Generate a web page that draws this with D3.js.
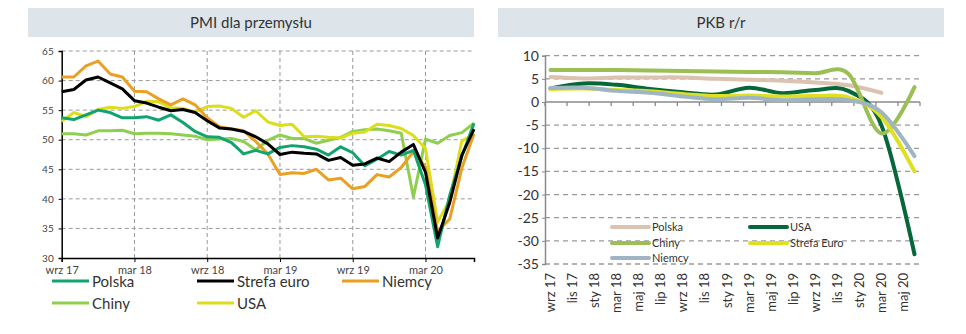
<!DOCTYPE html>
<html><head><meta charset="utf-8">
<script src="https://cdn.jsdelivr.net/npm/d3@7"></script>
<style>
html,body{margin:0;padding:0;background:#fff;}
svg{display:block;font-family:Lato,"Open Sans",sans-serif;}
</style></head>
<body>
<svg id="c" width="966" height="334"></svg>
<script>
// ---- PMI (monthly, wrz 17 .. lip 20) ----
const pmiTickLabels = ["wrz 17","mar 18","wrz 18","mar 19","wrz 19","mar 20"];
const pmiYTicks = [30,35,40,45,50,55,60,65];
const pmiPolska = [53.7,53.4,54.2,55.0,54.6,53.7,53.7,53.9,53.3,54.2,52.9,51.4,50.5,50.4,49.5,47.6,48.2,47.6,48.7,49.0,48.8,48.4,47.4,48.8,47.8,45.6,46.7,48.0,47.4,48.2,42.4,31.9,40.6,47.2,52.8];
const pmiStrefa = [58.1,58.5,60.1,60.6,59.6,58.6,56.6,56.2,55.5,54.9,55.1,54.6,53.2,52.0,51.8,51.4,50.5,49.3,47.5,47.9,47.7,47.6,46.5,47.0,45.7,45.9,46.9,46.3,47.9,49.2,44.5,33.4,39.4,47.4,51.8];
const pmiNiemcy = [60.6,60.6,62.5,63.3,61.1,60.6,58.2,58.1,56.9,55.9,56.9,55.9,53.7,52.2,51.8,51.5,49.7,47.6,44.1,44.4,44.3,45.0,43.2,43.5,41.7,42.1,44.1,43.7,45.3,48.0,45.4,34.5,36.6,45.2,51.0];
const pmiChiny = [51.0,51.0,50.8,51.5,51.5,51.6,51.0,51.1,51.1,51.0,50.8,50.6,50.0,50.1,50.2,49.7,48.3,49.9,50.8,50.2,50.2,49.4,49.9,50.4,51.4,51.7,51.8,51.5,51.1,40.3,50.1,49.4,50.7,51.2,52.8];
const pmiUSA = [53.1,54.6,53.9,55.1,55.5,55.3,55.6,56.5,56.4,55.4,55.3,54.7,55.6,55.7,55.3,53.8,54.9,53.0,52.4,52.6,50.5,50.6,50.4,50.3,51.1,51.3,52.6,52.4,51.9,50.7,48.5,36.1,39.8,49.8,50.9];

// ---- PKB r/r (quarterly points on monthly axis wrz 17 .. cze 20) ----
const gdpAxisLabels = ["wrz 17","lis 17","sty 18","mar 18","maj 18","lip 18","wrz 18","lis 18","sty 19","mar 19","maj 19","lip 19","wrz 19","lis 19","sty 20","mar 20","maj 20"];
const gdpYTicks = [10,5,0,-5,-10,-15,-20,-25,-30,-35];
const gdpQuarters = ["wrz 17","gru 17","mar 18","cze 18","wrz 18","gru 18","mar 19","cze 19","wrz 19","gru 19","mar 20","cze 20"];
const gdpPolska = [5.4,5.1,5.3,5.3,5.3,5.0,4.8,4.6,4.2,3.6,2.0];
const gdpUSA = [2.9,4.0,3.7,2.8,2.1,1.6,3.1,1.9,2.6,2.4,-5.0,-32.9];
const gdpChiny = [6.9,6.9,6.9,6.8,6.7,6.6,6.5,6.4,6.2,6.1,-6.8,3.2];
const gdpStrefa = [2.8,2.9,2.6,2.3,1.7,1.3,1.4,1.2,1.3,1.0,-3.2,-15.0];
const gdpNiemcy = [3.0,3.1,2.4,2.0,1.2,0.6,0.9,0.4,0.6,0.4,-2.2,-11.7];

const svg = d3.select("#c");
const txt = "#333";

// ================= LEFT CHART =================
svg.append("rect").attr("x",28).attr("y",8).attr("width",446).attr("height",29).attr("fill","#dde5ea");
svg.append("text").attr("x",251).attr("y",28).attr("text-anchor","middle").attr("font-size",15).attr("fill",txt).text("PMI dla przemysłu");

const lx = d3.scaleLinear().domain([0, pmiPolska.length-1]).range([61.7, 474]);
const ly = d3.scaleLinear().domain([30,65]).range([258,51]);
const L = svg.append("g");
const pmiTickIdx = pmiTickLabels.map((d,i)=>i*6);

// gridlines
L.selectAll(".hg").data(pmiYTicks.filter(v=>v>30)).join("line")
  .attr("x1",lx(0)).attr("x2",474).attr("y1",d=>ly(d)).attr("y2",d=>ly(d))
  .attr("stroke","#9a9a9a").attr("stroke-width",1).attr("stroke-dasharray","4,3");
L.selectAll(".vg").data(pmiTickIdx.filter(i=>i>0)).join("line")
  .attr("x1",d=>lx(d)).attr("x2",d=>lx(d)).attr("y1",ly(65)).attr("y2",ly(30))
  .attr("stroke","#9a9a9a").attr("stroke-width",1).attr("stroke-dasharray","4,3");

// axes
const lyAxis = L.append("g").attr("transform",`translate(${lx(0)},0)`)
  .call(d3.axisLeft(ly).tickValues(pmiYTicks).tickSize(3).tickPadding(5).tickFormat(d=>d));
lyAxis.select(".domain").attr("stroke","#000").attr("stroke-width",1.5);
lyAxis.selectAll(".tick line").attr("stroke","#000");
lyAxis.selectAll("text").attr("font-size",10).attr("fill","#444").attr("font-family","Lato,sans-serif");
const lxAxis = L.append("g").attr("transform",`translate(0,${ly(30)})`)
  .call(d3.axisBottom(lx).tickValues(pmiTickIdx).tickSize(4).tickPadding(4).tickFormat((d,i)=>pmiTickLabels[i]));
lxAxis.select(".domain").attr("stroke","#000").attr("stroke-width",1.5);
lxAxis.selectAll(".tick line").attr("stroke","#000");
lxAxis.selectAll("text").attr("font-size",11).attr("fill","#444").attr("font-family","Lato,sans-serif");

const pmiSeries = [
  {name:"Polska", data:pmiPolska, color:"#12a46e"},
  {name:"Strefa euro", data:pmiStrefa, color:"#000000"},
  {name:"Niemcy", data:pmiNiemcy, color:"#e9a023"},
  {name:"Chiny", data:pmiChiny, color:"#8fcf4f"},
  {name:"USA", data:pmiUSA, color:"#dcde1c"}
];
const lline = d3.line().x((d,i)=>lx(i)).y(d=>ly(d));
const drawOrderL = [3,4,2,0,1];
drawOrderL.forEach(k=>{
  const s = pmiSeries[k];
  L.append("path").datum(s.data).attr("d",lline).attr("fill","none")
    .attr("stroke",s.color).attr("stroke-width",3).attr("stroke-linejoin","round");
});
// legend
const lLegPos = [[52,281],[197,281],[342,281],[52,303],[197,303]];
pmiSeries.forEach((s,i)=>{
  const [x,y] = lLegPos[i];
  L.append("line").attr("x1",x).attr("x2",x+37).attr("y1",y).attr("y2",y).attr("stroke",s.color).attr("stroke-width",3);
  L.append("text").attr("x",x+40).attr("y",y+5.5).attr("font-size",15).attr("fill",txt).text(s.name);
});

// ================= RIGHT CHART =================
svg.append("rect").attr("x",498).attr("y",8).attr("width",446).attr("height",29).attr("fill","#dde5ea");
svg.append("text").attr("x",721).attr("y",28).attr("text-anchor","middle").attr("font-size",15).attr("fill",txt).text("PKB r/r");

const nMonths = 34;
const rx = d3.scaleLinear().domain([0,nMonths]).range([545,920]);
const ry = d3.scaleLinear().domain([-35,10]).range([264,55.7]);
const R = svg.append("g");

R.selectAll(".hg").data(gdpYTicks.filter(v=>v!==0)).join("line")
  .attr("x1",rx(0)).attr("x2",rx(nMonths)).attr("y1",d=>ry(d)).attr("y2",d=>ry(d))
  .attr("stroke","#9a9a9a").attr("stroke-width",1.3).attr("stroke-dasharray","5,4");
// zero line with ticks
const tickMonths = d3.range(0,nMonths+1,2);
R.append("line").attr("x1",rx(0)).attr("x2",rx(nMonths)).attr("y1",ry(0)).attr("y2",ry(0)).attr("stroke","#8a8a8a").attr("stroke-width",1.5);
R.selectAll(".zt").data(tickMonths).join("line")
  .attr("x1",d=>rx(d)).attr("x2",d=>rx(d)).attr("y1",ry(0)).attr("y2",ry(0)+4)
  .attr("stroke","#8a8a8a").attr("stroke-width",1.3);
// y axis
const ryAxis = R.append("g").attr("transform",`translate(${rx(0)},0)`)
  .call(d3.axisLeft(ry).tickValues(gdpYTicks).tickSize(3).tickPadding(3).tickFormat(d=>String(d)));
ryAxis.select(".domain").attr("stroke","#8a8a8a").attr("stroke-width",1.5);
ryAxis.selectAll(".tick line").attr("stroke","#8a8a8a");
ryAxis.selectAll("text").attr("font-size",14).attr("fill",txt).attr("font-family","Lato,sans-serif");
// x labels
R.selectAll(".xl").data(gdpAxisLabels).join("text")
  .attr("transform",(d,i)=>`translate(${rx(i*2+0.5)},273) rotate(-90)`)
  .attr("text-anchor","end").attr("dy","0.35em").attr("font-size",13).attr("fill",txt).text(d=>d);

const gdpSeries = [
  {name:"Polska", data:gdpPolska, color:"#dcc2b0"},
  {name:"USA", data:gdpUSA, color:"#06683a"},
  {name:"Chiny", data:gdpChiny, color:"#9bbf55"},
  {name:"Strefa Euro", data:gdpStrefa, color:"#dfe024"},
  {name:"Niemcy", data:gdpNiemcy, color:"#9fb5c3"}
];
const rline = d3.line().x((d,i)=>rx(i*3+0.5)).y(d=>ry(d)).curve(d3.curveCatmullRom.alpha(0));
[0,1,2,3,4].forEach(k=>{
  const s = gdpSeries[k];
  R.append("path").datum(s.data).attr("d",rline).attr("fill","none")
    .attr("stroke",s.color).attr("stroke-width",4).attr("stroke-linecap","round");
});
// legend
const rLegPos = [[612,227],[750,227],[612,243],[750,243],[612,258]];
gdpSeries.forEach((s,i)=>{
  const [x,y] = rLegPos[i];
  R.append("line").attr("x1",x).attr("x2",x+37).attr("y1",y).attr("y2",y).attr("stroke",s.color).attr("stroke-width",4).attr("stroke-linecap","round");
  R.append("text").attr("x",x+40).attr("y",y+4).attr("font-size",11).attr("fill",txt).text(s.name);
});
</script>
</body></html>
